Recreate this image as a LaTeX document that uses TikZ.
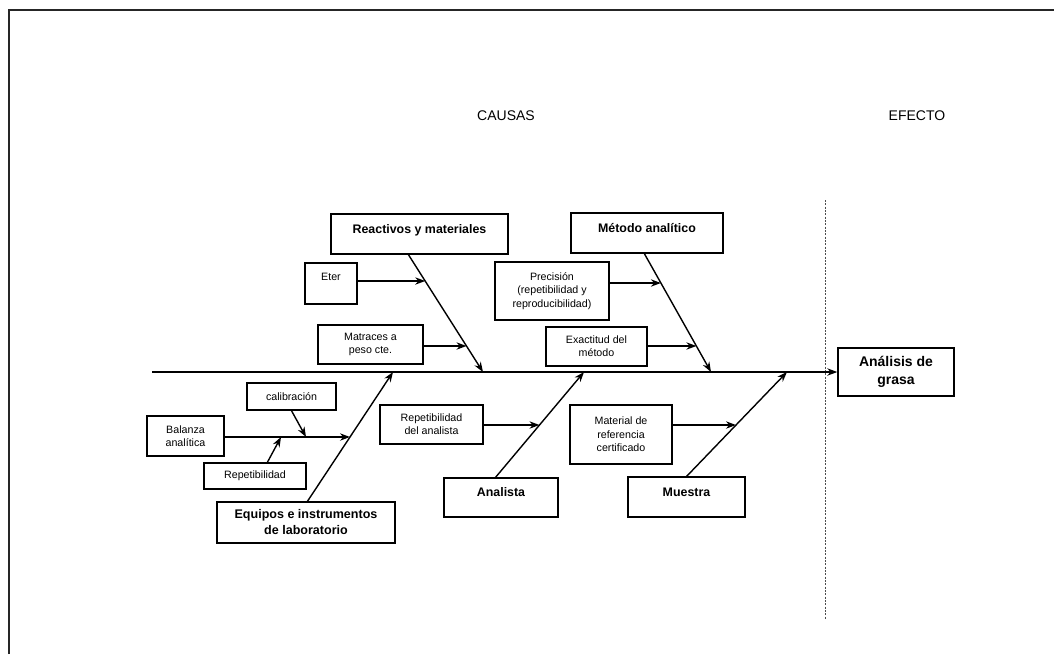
\documentclass[tikz,border=0pt]{standalone}
\usepackage{fontspec}
\setmainfont{Liberation Sans}
\usetikzlibrary{arrows.meta}
\begin{document}
\begin{tikzpicture}[x=0.75pt,y=-0.75pt,
  line width=1.05pt,
  box/.style={draw, rectangle, inner sep=2pt, align=center, line width=1.05pt},
  sz/.style 2 args={minimum width=#1*0.75pt, minimum height=#2*0.75pt},
  title/.style={font=\bfseries\fontsize{9.3}{11}\selectfont},
  small/.style={font=\fontsize{8}{10}\selectfont},
  raised/.style={text height=7pt, text depth=8pt},
  arr/.style={-{Stealth[length=7.5pt,width=5.5pt]}},
  divider/.style={line width=0.6pt, black!70, dash pattern=on 1.5pt off 1pt},
  frame/.style={line width=1.8pt, black!85}
]
\useasboundingbox (0,0) rectangle (1054,654);

% page frame (top and left edges)
\draw[frame] (9,654) -- (9,10) -- (1054,10);

% headings
\node[font=\fontsize{10.5}{12}\selectfont] (causas) at (506,116) {CAUSAS};
\node[font=\fontsize{10.5}{12}\selectfont] (efecto) at (917,116) {EFECTO};

% separator between causes and effect
\draw[divider] (825,200) -- (825,620);

% cause categories and sub-causes
\node[box,title,raised,sz={177}{40}] (reac) at (419.5,234) {Reactivos y materiales};
\node[box,small,sz={52}{41},text height=6pt,text depth=10pt] (eter) at (331,283.5) {Eter};
\node[box,small,sz={105}{39}] (matr) at (370.5,344.5) {Matraces a\\peso cte.};
\node[box,title,raised,sz={152}{40}] (meto) at (647,233) {Método analítico};
\node[box,small,sz={114}{58}] (prec) at (552,291) {Precisión\\(repetibilidad y\\reproducibilidad)};
\node[box,small,sz={101}{39}] (exac) at (596.5,346.5) {Exactitud del\\método};
\node[box,small,sz={89}{27}] (cali) at (291.5,396.5) {calibración};
\node[box,small,sz={77}{40}] (bala) at (185.5,436) {Balanza\\analítica};
\node[box,small,sz={102}{26}] (repe) at (255,476) {Repetibilidad};
\node[box,font=\bfseries\fontsize{9.4}{12}\selectfont,sz={178}{41}] (equi) at (306,522.5) {Equipos e instrumentos\\de laboratorio};
\node[box,small,sz={103}{39}] (repa) at (431.5,424.5) {Repetibilidad\\del analista};
\node[box,title,raised,sz={114}{39}] (ana) at (501,497.5) {Analista};
\node[box,small,sz={102}{59}] (mat) at (621,434.5) {Material de\\referencia\\certificado};
\node[box,title,raised,sz={117}{40}] (mue) at (686.5,497) {Muestra};

% effect
\node[box,font=\bfseries\fontsize{10.5}{13.5}\selectfont,sz={116}{48}] (efec) at (896,372) {Análisis de\\grasa};

% spine and junctions
\coordinate (s0) at (152,372);
\coordinate (jE) at (393,372);
\coordinate (jR) at (483,372);
\coordinate (jA) at (584,372);
\coordinate (jM) at (711,372);
\coordinate (jU) at (787,372);

% bone roots at the category boxes
\coordinate (tR) at (408,254);
\coordinate (tM) at (644,253);
\coordinate (tE) at (307,502);
\coordinate (tA) at (495,478);
\coordinate (tU) at (686,477);

% points where sub-causes meet their bones
\coordinate (eR) at (425.2,281);
\coordinate (mR) at (466.5,346);
\coordinate (pM) at (660.9,283);
\coordinate (xM) at (696.4,346);
\coordinate (bE) at (350,437);
\coordinate (rA) at (539.5,425);
\coordinate (mU) at (736,425);
\coordinate (cB) at (306,437);
\coordinate (rB) at (281,437);
\coordinate (rS) at (267,463);

% spine
\draw[arr] (s0) -- (efec.west);

% main bones
\draw[arr] (tR) -- (jR);
\draw[arr] (tM) -- (jM);
\draw[arr] (tE) -- (jE);
\draw[arr] (tA) -- (jA);
\draw[arr] (tU) -- (jU);

% sub-cause arrows
\draw[arr] (eter.east |- eR) -- (eR);
\draw[arr] (matr.east |- mR) -- (mR);
\draw[arr] (prec.east |- pM) -- (pM);
\draw[arr] (exac.east |- xM) -- (xM);
\draw[arr] (bala.east |- bE) -- (bE);
\draw[arr] (repa.east |- rA) -- (rA);
\draw[arr] (mat.east |- mU) -- (mU);
\draw[arr] (cali.south) -- (cB);
\draw[arr] (rS) -- (rB);
\end{tikzpicture}
\end{document}
